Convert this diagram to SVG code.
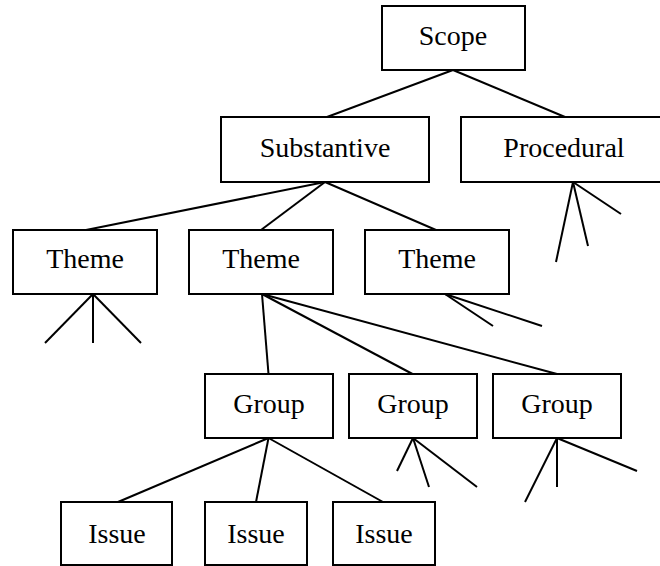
<svg xmlns="http://www.w3.org/2000/svg" width="660" height="566" viewBox="0 0 660 566">
<style>
.box{fill:#fff;stroke:#000;stroke-width:2}
.lbl{font-family:"Liberation Serif","Times New Roman",serif;font-size:28px;fill:#000;text-anchor:middle}
.con line{stroke:#000;stroke-width:2;stroke-linecap:butt}
</style>
<rect width="660" height="566" fill="#fff"/>
<g class="con" id="connectors">
<line x1="453" y1="70" x2="327" y2="117"/>
<line x1="453" y1="70" x2="565" y2="117"/>
<line x1="325" y1="182" x2="86" y2="230"/>
<line x1="325" y1="182" x2="261" y2="230"/>
<line x1="325" y1="182" x2="436" y2="230"/>
<line x1="573" y1="182" x2="556" y2="262"/>
<line x1="573" y1="182" x2="588" y2="246"/>
<line x1="573" y1="182" x2="621" y2="214"/>
<line x1="93" y1="294" x2="45" y2="343"/>
<line x1="93" y1="294" x2="93" y2="343"/>
<line x1="93" y1="294" x2="141" y2="343"/>
<line x1="445" y1="294" x2="493" y2="326"/>
<line x1="445" y1="294" x2="542" y2="326"/>
<line x1="262" y1="294" x2="268.5" y2="374"/>
<line x1="262" y1="294" x2="412.5" y2="374"/>
<line x1="262" y1="294" x2="557" y2="374"/>
<line x1="268.5" y1="438" x2="118" y2="502"/>
<line x1="268.5" y1="438" x2="256" y2="502"/>
<line x1="268.5" y1="438" x2="383" y2="502"/>
<line x1="413" y1="438" x2="397" y2="471"/>
<line x1="413" y1="438" x2="429" y2="487"/>
<line x1="413" y1="438" x2="477" y2="487"/>
<line x1="557" y1="438" x2="525" y2="502"/>
<line x1="557" y1="438" x2="557" y2="487"/>
<line x1="557" y1="438" x2="637" y2="471"/>
</g>
<g id="scope"><rect class="box" x="382" y="6" width="143" height="64"/><text class="lbl" x="453" y="45">Scope</text></g>
<g id="substantive"><rect class="box" x="221" y="117" width="208" height="65"/><text class="lbl" x="325" y="157">Substantive</text></g>
<g id="procedural"><rect class="box" x="461" y="117" width="210" height="65"/><text class="lbl" x="564" y="157">Procedural</text></g>
<g id="theme1"><rect class="box" x="13" y="230" width="144" height="64"/><text class="lbl" x="85" y="268">Theme</text></g>
<g id="theme2"><rect class="box" x="189" y="230" width="144" height="64"/><text class="lbl" x="261" y="268">Theme</text></g>
<g id="theme3"><rect class="box" x="365" y="230" width="144" height="64"/><text class="lbl" x="437" y="268">Theme</text></g>
<g id="group1"><rect class="box" x="205" y="374" width="128" height="64"/><text class="lbl" x="269" y="413">Group</text></g>
<g id="group2"><rect class="box" x="349" y="374" width="128" height="64"/><text class="lbl" x="413" y="413">Group</text></g>
<g id="group3"><rect class="box" x="493" y="374" width="128" height="64"/><text class="lbl" x="557" y="413">Group</text></g>
<g id="issue1"><rect class="box" x="61" y="502" width="111" height="63"/><text class="lbl" x="117" y="543">Issue</text></g>
<g id="issue2"><rect class="box" x="205" y="502" width="102" height="63"/><text class="lbl" x="256" y="543">Issue</text></g>
<g id="issue3"><rect class="box" x="333" y="502" width="102" height="63"/><text class="lbl" x="384" y="543">Issue</text></g>
</svg>
